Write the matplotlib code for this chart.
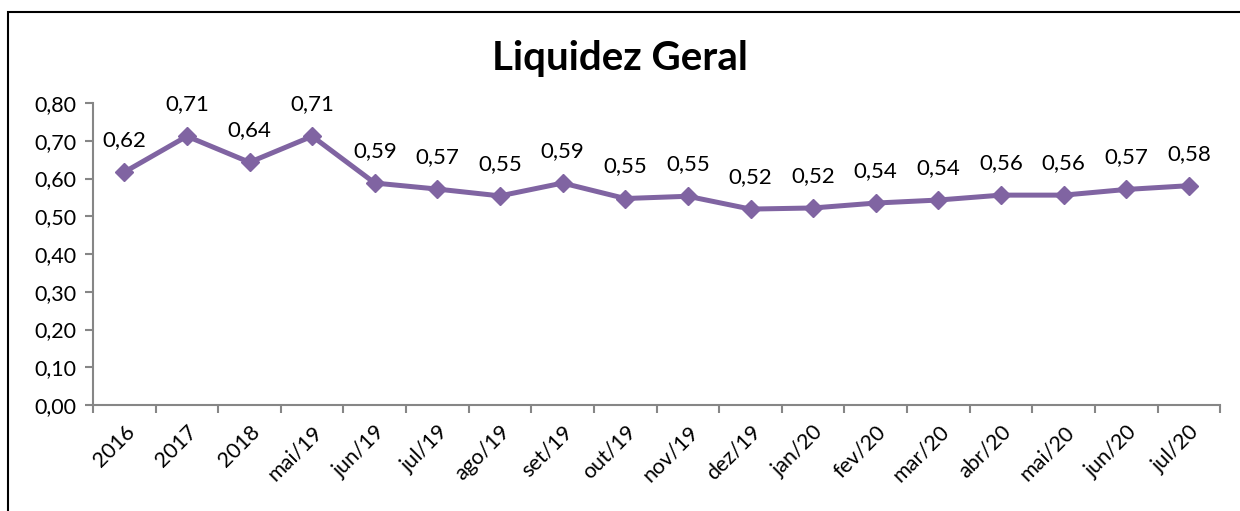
import matplotlib.pyplot as plt
from matplotlib.patches import Rectangle
from matplotlib.ticker import FixedLocator, FuncFormatter

# Data
categories = ["2016", "2017", "2018", "mai/19", "jun/19", "jul/19", "ago/19", "set/19",
              "out/19", "nov/19", "dez/19", "jan/20", "fev/20", "mar/20", "abr/20",
              "mai/20", "jun/20", "jul/20"]
values = [0.617, 0.712, 0.643, 0.712, 0.588, 0.572, 0.554, 0.588, 0.547, 0.553,
          0.519, 0.522, 0.535, 0.543, 0.556, 0.556, 0.571, 0.581]
labels = ["0,62", "0,71", "0,64", "0,71", "0,59", "0,57", "0,55", "0,59", "0,55", "0,55",
          "0,52", "0,52", "0,54", "0,54", "0,56", "0,56", "0,57", "0,58"]

plt.rcParams['font.family'] = ['Lato', 'DejaVu Sans']

fig = plt.figure(figsize=(12.4, 5.11), dpi=100)
ax = fig.add_axes([0.075, 0.2074, 0.909, 0.591])

x = list(range(len(categories)))
ax.plot(x, values, color="#8064A2", lw=3.6, marker="D", ms=9, zorder=3)

for xi, v, lab in zip(x, values, labels):
    ax.annotate(lab, (xi, v), xytext=(0, 23), textcoords="offset points",
                ha="center", va="center", fontsize=16, color="black")

ax.set_xlim(-0.5, len(categories) - 0.5)
ax.set_ylim(0, 0.8)
ax.set_yticks([i / 10 for i in range(9)])
ax.yaxis.set_major_formatter(FuncFormatter(lambda v, p: f"{v:.2f}".replace(".", ",")))

ax.set_xticks(x)
ax.set_xticklabels(categories, rotation=45, ha="right", rotation_mode="anchor")
ax.xaxis.set_minor_locator(FixedLocator([i - 0.5 for i in range(len(categories) + 1)]))
ax.tick_params(axis="x", which="major", length=0, pad=12, labelsize=15.5)
ax.tick_params(axis="x", which="minor", length=6, color="#868686", width=1.5)
ax.tick_params(axis="y", length=6, color="#868686", width=1.5, labelsize=15.5, pad=6)

for s in ["top", "right"]:
    ax.spines[s].set_visible(False)
for s in ["left", "bottom"]:
    ax.spines[s].set_color("#868686")
    ax.spines[s].set_linewidth(1.5)

fig.text(0.5, 0.885, "Liquidez Geral", ha="center", va="center",
         fontsize=29, fontweight="bold")

# chart frame: only the top and left edges fall inside the image
fig.patches.append(Rectangle((0.0065, -0.05), 1.05, 1.0265, transform=fig.transFigure,
                             fill=False, edgecolor="black", lw=1.5))

fig.savefig("out.png", dpi=100)
